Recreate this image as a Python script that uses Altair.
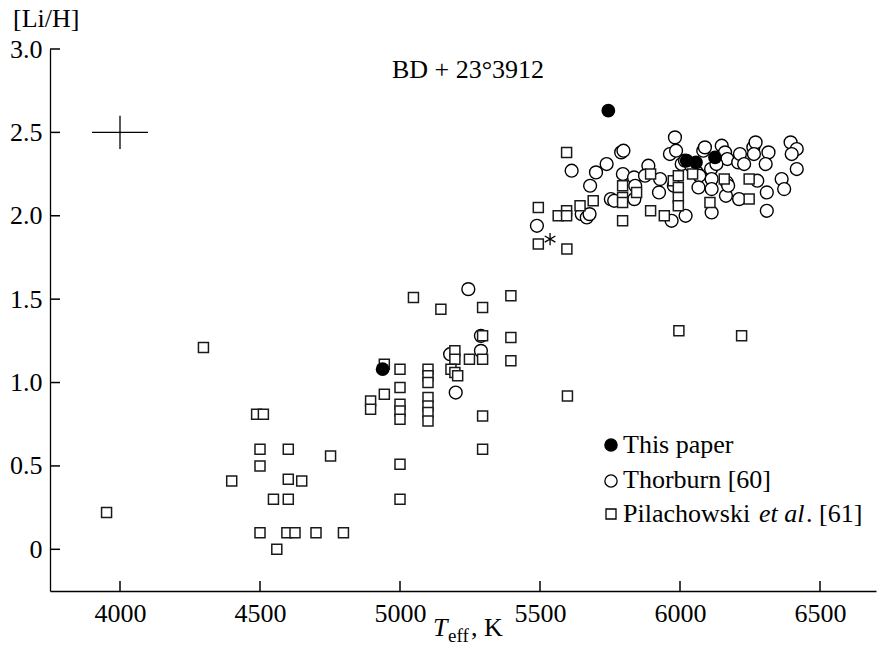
import altair as alt
import pandas as pd

# ---------------- data ----------------
thor_T = [5489, 5613, 5649, 5667, 5677, 5679, 5700, 5738, 5753, 5765, 5790, 5798, 5796, 5836,
          5840, 5837, 5887, 5875, 5925, 5929, 5964, 5982, 5986, 5970, 5978, 6006, 6020, 6018,
          6060, 6069, 6066, 6083, 6089, 6111, 6113, 6113, 6113, 6149, 6161, 6169, 6167, 6164,
          6172, 6208, 6214, 6229, 6211, 6262, 6270, 6264, 6276, 6316, 6306, 6310, 6310, 6363,
          6372, 6395, 6417, 6399, 6417, 6040, 6130,
          5244, 5289, 5289, 5179, 5199]
thor_v = [1.94, 2.27, 2.01, 1.99, 2.01, 2.18, 2.26, 2.31, 2.10, 2.09, 2.38, 2.39, 2.25, 2.23,
          2.18, 2.10, 2.30, 2.24, 2.14, 2.22, 2.37, 2.47, 2.39, 1.97, 2.18, 2.31, 2.00, 2.33,
          2.26, 2.24, 2.17, 2.39, 2.41, 2.28, 2.22, 2.16, 2.02, 2.42, 2.38, 2.34, 2.20, 2.12,
          2.18, 2.32, 2.37, 2.31, 2.10, 2.41, 2.44, 2.37, 2.21, 2.38, 2.31, 2.14, 2.03, 2.22,
          2.16, 2.44, 2.40, 2.37, 2.28, 2.30, 2.31,
          1.56, 1.28, 1.19, 1.17, 0.94]

pil_T = [3952, 4298, 4399, 4488, 4512, 4500, 4500, 4500, 4548, 4560, 4601, 4601, 4601, 4596,
         4625, 4649, 4700, 4752, 4798,
         4895, 4895, 4944, 4944,
         5000, 5000, 5000, 5000, 5000, 5000, 5000,
         5100, 5100, 5100, 5100, 5100, 5100, 5100,
         5048, 5146, 5196, 5196, 5182, 5196, 5206, 5248,
         5295, 5295, 5295, 5295, 5295,
         5396, 5396, 5396,
         5598, 5996, 6220,
         5494, 5494, 5596, 5595, 5565, 5595, 5595, 5643, 5690, 5795, 5795, 5795, 5795, 5845,
         5895, 5895, 5944, 5976, 5994, 5994, 5994, 5994, 6045, 6107, 6158, 6247, 6247]
pil_v = [0.22, 1.21, 0.41, 0.81, 0.81, 0.60, 0.50, 0.10, 0.30, 0.00, 0.60, 0.42, 0.30, 0.10,
         0.10, 0.41, 0.10, 0.56, 0.10,
         0.89, 0.84, 1.11, 0.93,
         1.08, 0.97, 0.87, 0.83, 0.78, 0.51, 0.30,
         1.08, 1.04, 1.00, 0.91, 0.86, 0.82, 0.77,
         1.51, 1.44, 1.19, 1.14, 1.08, 1.06, 1.04, 1.14,
         1.45, 1.28, 1.14, 0.80, 0.60,
         1.52, 1.27, 1.13,
         0.92, 1.31, 1.28,
         2.05, 1.83, 1.80, 2.38, 2.00, 2.03, 2.00, 2.06, 2.09, 2.18, 2.11, 2.08, 1.97, 2.14,
         2.25, 2.03, 2.00, 2.21, 2.24, 2.17, 2.11, 2.06, 2.25, 2.08, 2.22, 2.22, 2.10]

this_T = [4938, 5744, 6024, 6057, 6125]
this_v = [1.08, 2.63, 2.33, 2.32, 2.35]

star_T = [5536]
star_v = [1.86]

err_T = [4000]
err_v = [2.5]
err_dT = [100]
err_dv = [0.1]

x_ticks = [4000, 4500, 5000, 5500, 6000, 6500]
y_ticks = [0, 0.5, 1.0, 1.5, 2.0, 2.5, 3.0]

title_text = "BD + 23°3912"
y_title = "[Li/H]"
legend_labels = ["This paper", "Thorburn [60]", "Pilachowski"]
legend_italic = "et al"
legend_tail = ". [61]"

# ---------------- style ----------------
FONT = "Liberation Serif, Times New Roman, DejaVu Serif, serif"
FS = 26
W, H = 826, 542

xsc = alt.Scale(domain=[3750, 6700], nice=False, zero=False)
ysc = alt.Scale(domain=[-0.25, 3.0], nice=False, zero=False)

# axis without ticks; inward ticks drawn as tick marks below
xax = alt.Axis(values=x_ticks, ticks=False, grid=False, domainColor="black",
               domainWidth=1.3, labelFont=FONT, labelFontSize=FS, labelColor="black",
               labelPadding=9, labelFlush=False, labelOverlap=False, title=None, format="d")
yax = alt.Axis(values=y_ticks, ticks=False, grid=False, domainColor="black",
               domainWidth=1.3, labelFont=FONT, labelFontSize=FS, labelColor="black",
               labelPadding=8, labelFlush=False, labelOverlap=False, title=None,
               labelExpr="datum.value == 0 ? '0' : format(datum.value, '.1f')")

thor_df = pd.DataFrame({"T": thor_T, "v": thor_v})
pil_df = pd.DataFrame({"T": pil_T, "v": pil_v})
this_df = pd.DataFrame({"T": this_T, "v": this_v})
star_df = pd.DataFrame({"T": star_T, "v": star_v})
err_df = pd.DataFrame({
    "T": err_T, "v": err_v,
    "T1": [t - d for t, d in zip(err_T, err_dT)], "T2": [t + d for t, d in zip(err_T, err_dT)],
    "v1": [v - d for v, d in zip(err_v, err_dv)], "v2": [v + d for v, d in zip(err_v, err_dv)],
})


def X(f="T"):
    return alt.X(f"{f}:Q", scale=xsc, axis=xax)


def Y(f="v"):
    return alt.Y(f"{f}:Q", scale=ysc, axis=yax)


circles = alt.Chart(thor_df).mark_point(
    shape="circle", filled=True, fill="white", stroke="black", strokeWidth=1.4,
    size=165, opacity=1).encode(x=X(), y=Y())
squares = alt.Chart(pil_df).mark_point(
    shape="square", filled=True, fill="white", stroke="#1a1a1a", strokeWidth=1.5,
    size=100, opacity=1).encode(x=X(), y=Y())
filled = alt.Chart(this_df).mark_point(
    shape="circle", filled=True, color="black", size=190, opacity=1).encode(x=X(), y=Y())
star = alt.Chart(star_df).mark_point(
    shape="M0,-1L0,1M-0.866,-0.5L0.866,0.5M-0.866,0.5L0.866,-0.5",
    filled=False, stroke="black", strokeWidth=1.3, size=150, opacity=1).encode(x=X(), y=Y())

err_h = alt.Chart(err_df).mark_rule(color="black", strokeWidth=1.3).encode(
    x=X("T1"), x2="T2:Q", y=Y())
err_v_rule = alt.Chart(err_df).mark_rule(color="black", strokeWidth=1.3).encode(
    x=X(), y=Y("v1"), y2="v2:Q")

xtick_layer = alt.Chart(pd.DataFrame({"T": x_ticks})).mark_tick(
    color="black", thickness=1.5, size=10, opacity=1).encode(x=X(), y=alt.value(H - 5))
ytick_layer = alt.Chart(pd.DataFrame({"v": y_ticks})).mark_tick(
    color="black", thickness=1.5, size=10, opacity=1).encode(y=Y(), x=alt.value(5))


def label(text, x, y, size=FS, align="left", style="normal"):
    return alt.Chart(pd.DataFrame({"t": [text]})).mark_text(
        font=FONT, fontSize=size, align=align, baseline="alphabetic", color="black",
        fontStyle=style).encode(text="t:N", x=alt.value(x), y=alt.value(y))


def symbol(shape, x, y, size, fill, stroke):
    return alt.Chart(pd.DataFrame({"a": [0]})).mark_point(
        shape=shape, filled=True, fill=fill, stroke=stroke, strokeWidth=1.3,
        size=size, opacity=1).encode(x=alt.value(x), y=alt.value(y))


texts = [
    label(title_text, 418, 29, align="center"),
    label(y_title, -37, -22),
    label("T", 383, 587, style="italic"),
    label("eff", 398, 593, size=19),
    label(", K", 421, 587),
    label(legend_labels[0], 573, 404),
    label(legend_labels[1], 573, 439),
    label(legend_labels[2], 573, 473),
    label(legend_italic, 709, 473, style="italic"),
    label(legend_tail, 756, 473),
    symbol("circle", 561, 396, 150, "black", "black"),
    symbol("circle", 561, 432, 150, "white", "black"),
    symbol("square", 561, 465, 100, "white", "black"),
]

chart = alt.layer(
    circles, squares, filled, star, err_h, err_v_rule, xtick_layer, ytick_layer, *texts
).properties(
    width=W, height=H,
    autosize=alt.AutoSizeParams(type="none"),
    padding={"left": 50, "top": 49, "right": 2, "bottom": 63},
    background="white",
).configure_view(stroke="transparent")

chart.save("out.html", embed_options={"renderer": "svg", "actions": False})
